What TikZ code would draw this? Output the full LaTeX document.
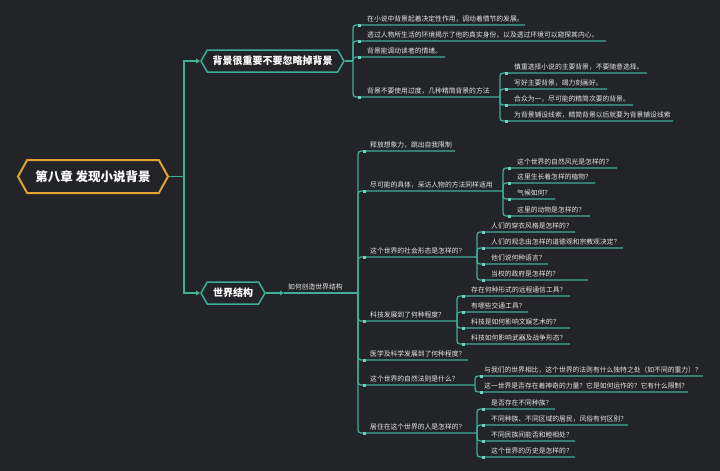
\documentclass[tikz,border=0pt]{standalone}
\usepackage{fontspec}
\newfontfamily\cjk{Noto Sans CJK SC}
\usetikzlibrary{shapes.symbols,arrows.meta}
\definecolor{bgc}{HTML}{232428}
\definecolor{linec}{HTML}{3FAE99}
\definecolor{dotc}{HTML}{6CD3BE}
\definecolor{orangec}{HTML}{E3A12F}
\definecolor{txtc}{HTML}{E6E6E6}
% #1 text offset, #2 parent, #3 name, #4 trunk x, #5 line y, #6 line end x, #7 text
\newcommand\leaf[7][14]{%
  \node[leaf,anchor=base west] (#3) at ({#4+#1},{#5-4}) {#7};
  \coordinate (#3-e) at (#6,#5);
  \draw[link] (#2-e) |- (#3-e);
  \fill[dotc] ({#4+4.5},{#5-1.5}) rectangle ({#4+7.5},{#5+1.5});
}
\begin{document}
\begin{tikzpicture}[x=1pt,y=-1pt,
  link/.style={draw=linec,line width=1.3pt,rounded corners=3pt},
  leaf/.style={font={\cjk\fontsize{6.8}{8}\selectfont},text=txtc,inner sep=0pt},
  hexb/.style={shape=signal,signal to=east and west,signal pointer angle=120,
    draw=linec,line width=1.5pt,fill=bgc,text=white,inner sep=0pt,
    font={\cjk\bfseries\fontsize{10}{12}\selectfont}},
  roothex/.style={shape=signal,signal to=east and west,signal pointer angle=122,
    draw=orangec,line width=2pt,fill=bgc,text=white,inner sep=0pt,
    font={\cjk\bfseries\fontsize{12.5}{14}\selectfont}},
  arr/.style={-{Triangle[length=4pt,width=4.5pt]}}
]
\fill[bgc] (0,0) rectangle (720,471);
\useasboundingbox (0,0) rectangle (720,471);

% root and branches
\node[roothex,minimum width=150pt,minimum height=33pt] (root) at (93,176.5) {第八章 发现小说背景};
\node[hexb,minimum width=143pt,minimum height=22pt] (br1) at (272.5,61) {背景很重要不要忽略掉背景};
\node[hexb,minimum width=64pt,minimum height=22pt] (br2) at (233,293) {世界结构};
\coordinate (rt) at (184,176.5);
\draw[link,rounded corners=0pt] (root.east) -- (rt);
\draw[link,rounded corners=0pt,arr] (rt) |- (br1.west);
\draw[link,rounded corners=0pt,arr] (rt) |- (br2.west);

% branch 1
\coordinate (br1-e) at (353,61);
\draw[link] (br1.east) -- (br1-e);
\leaf{br1}{a1}{353}{25}{525}{在小说中背景起着决定性作用，调动着情节的发展。}
\leaf{br1}{a2}{353}{41}{606}{透过人物所生活的环境揭示了他的真实身份，以及透过环境可以窥探其内心。}
\leaf{br1}{a3}{353}{57}{445}{背景能调动读者的情绪。}
\leaf{br1}{a4}{353}{97}{500}{背景不要使用过度，几种精简背景的方法}
\leaf{a4}{a41}{500}{73}{647}{慎重选择小说的主要背景，不要随意选择。}
\leaf{a4}{a42}{500}{89}{607}{写好主要背景，竭力刻画好。}
\leaf{a4}{a43}{500}{105}{633}{合众为一，尽可能的精简次要的背景。}
\leaf{a4}{a44}{500}{121}{673}{为背景铺设线索，精简背景以后就要为背景铺设线索}

% branch 2
\coordinate (b0s) at (284,293);
\draw[link,arr] (br2.east) -- (b0s);
\node[leaf,anchor=base west] (b0) at (288,289) {如何创造世界结构};
\coordinate (b0-e) at (358,293);
\draw[link] (b0s) -- (b0-e);

\leaf[12]{b0}{b1}{358}{151}{455}{释放想象力，跳出自我限制}
\leaf[12]{b0}{b2}{358}{191}{503}{尽可能的具体，采访人物的方法同样适用}
\leaf{b2}{b21}{503}{168}{617}{这个世界的自然风光是怎样的？}
\leaf{b2}{b22}{503}{183}{595}{这里生长着怎样的植物？}
\leaf{b2}{b23}{503}{199}{555}{气候如何？}
\leaf{b2}{b24}{503}{216}{590}{这里的动物是怎样的？}

\leaf[12]{b0}{b3}{358}{257}{477}{这个世界的社会形态是怎样的？}
\leaf{b3}{b31}{477}{232}{575}{人们的穿衣风格是怎样的？}
\leaf{b3}{b32}{477}{248}{623}{人们的观念由怎样的道德观和宗教观决定？}
\leaf{b3}{b33}{477}{264}{548}{他们说何种语言？}
\leaf{b3}{b34}{477}{280}{588}{当权的政府是怎样的？}

\leaf[12]{b0}{b4}{358}{321}{457}{科技发展到了何种程度？}
\leaf{b4}{b41}{457}{296}{570}{存在何种形式的远程通信工具？}
\leaf{b4}{b42}{457}{312}{528}{有哪些交通工具？}
\leaf{b4}{b43}{457}{328}{570}{科技是如何影响文娱艺术的？}
\leaf{b4}{b44}{457}{344}{570}{科技如何影响武器及战争形态？}

\leaf[12]{b0}{b5}{358}{360}{468}{医学及科学发展到了何种程度？}

\leaf[12]{b0}{b6}{358}{385}{475}{这个世界的自然法则是什么？}
\leaf[9]{b6}{b61}{475}{376}{703}{与我们的世界相比，这个世界的法则有什么独特之处（如不同的重力）？}
\leaf[9]{b6}{b62}{475}{392}{688}{这一世界是否存在着神奇的力量？它是如何运作的？它有什么限制？}

\leaf[12]{b0}{b7}{358}{433}{477}{居住在这个世界的人是怎样的？}
\leaf{b7}{b71}{477}{409}{555}{是否存在不同种族？}
\leaf{b7}{b72}{477}{425}{628}{不同种族、不同区域的居民，风俗有何区别？}
\leaf{b7}{b73}{477}{441}{575}{不同民族间能否和睦相处？}
\leaf{b7}{b74}{477}{457}{575}{这个世界的历史是怎样的？}
\end{tikzpicture}
\end{document}
